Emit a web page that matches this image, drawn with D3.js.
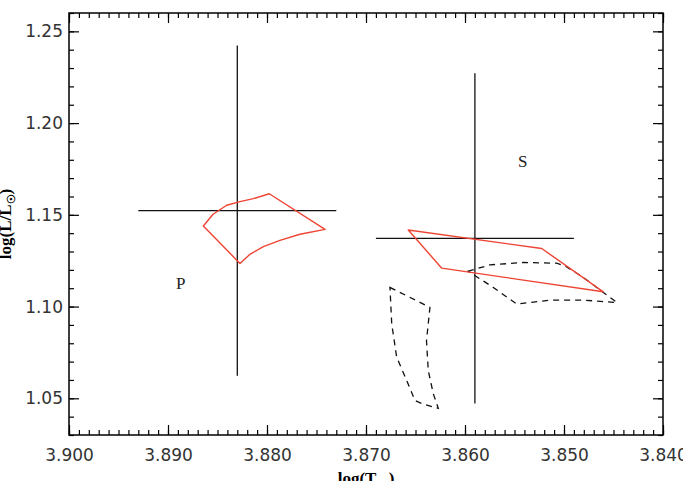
<!DOCTYPE html>
<html>
<head>
<meta charset="utf-8">
<script src="https://cdn.jsdelivr.net/npm/d3@7"></script>
<style>
  body { margin: 0; background: #fff; overflow: hidden; }
  .tick text { font-family: "DejaVu Sans", sans-serif; font-size: 17px; fill: #333; }
  .domain { display: none; }
  .tick line { stroke: #000; stroke-width: 1.2; }
</style>
</head>
<body>
<div id="chart"></div>
<script>
  var width = 683;
  var height = 481;
  var margin = { top: 13, right: 20, bottom: 46, left: 69 };

  // error crosses: [logTeff, errTeff, logL, errL]
  var crossP = [3.8830, 0.0100, 1.1523, 0.0900];
  var crossS = [3.8590, 0.0100, 1.1372, 0.0900];

  // red track boxes
  var trackP = [
    [3.88643, 1.1439], [3.88545, 1.1503], [3.88407, 1.1552], [3.88273, 1.1572],
    [3.88138, 1.1588], [3.87977, 1.1615], [3.87414, 1.1421], [3.87667, 1.1394],
    [3.87869, 1.1361], [3.88037, 1.1327], [3.88172, 1.1285], [3.88273, 1.1235]
  ];
  var trackS = [
    [3.86573, 1.14174], [3.85225, 1.13163], [3.84603, 1.10804], [3.86235, 1.12092]
  ];

  // dashed boxes
  var dashA = [
    [3.85970, 1.11929], [3.85747, 1.12272], [3.85411, 1.12402], [3.85074, 1.12364],
    [3.84990, 1.12217], [3.84805, 1.11587], [3.84603, 1.10772], [3.84465, 1.10217],
    [3.84805, 1.10353], [3.85141, 1.10353], [3.85478, 1.10136], [3.85714, 1.11043]
  ];
  var dashB = [
    [3.86758, 1.11043], [3.86354, 1.09957], [3.86389, 1.08141], [3.86371, 1.06511],
    [3.86320, 1.05245], [3.86270, 1.04450], [3.86430, 1.04700], [3.86505, 1.04880],
    [3.86589, 1.05967], [3.86690, 1.07239], [3.86740, 1.09049]
  ];

  var labels = [
    { text: 'P', x: 3.8892, y: 1.1095 },
    { text: 'S', x: 3.85465, y: 1.1758 }
  ];

  var xMajor = [3.900, 3.890, 3.880, 3.870, 3.860, 3.850, 3.840];
  var yMajor = [1.05, 1.10, 1.15, 1.20, 1.25];

  var svg = d3.select('#chart')
    .append('svg')
    .attr('width', width)
    .attr('height', height);

  var x = d3.scaleLinear()
    .domain([3.900, 3.840])
    .range([margin.left, width - margin.right]);

  var y = d3.scaleLinear()
    .domain([1.03, 1.26])
    .range([height - margin.bottom, margin.top]);

  var xMinor = d3.range(0, 61).map(function(i) { return 3.840 + i * 0.001; });
  var yMinor = d3.range(0, 24).map(function(i) { return 1.03 + i * 0.01; });

  // axes, ticks pointing inward on all four sides
  var axBottom = svg.append('g').attr('transform', 'translate(0,' + y.range()[0] + ')');
  axBottom.call(d3.axisBottom(x).tickValues(xMinor).tickSize(-5).tickFormat(''));
  axBottom.append('g').call(d3.axisBottom(x).tickValues(xMajor).tickSize(-10).tickPadding(14).tickFormat(d3.format('.3f')));

  var axTop = svg.append('g').attr('transform', 'translate(0,' + y.range()[1] + ')');
  axTop.call(d3.axisTop(x).tickValues(xMinor).tickSize(-5).tickFormat(''));
  axTop.append('g').call(d3.axisTop(x).tickValues(xMajor).tickSize(-10).tickFormat(''));

  var axLeft = svg.append('g').attr('transform', 'translate(' + x.range()[0] + ',0)');
  axLeft.call(d3.axisLeft(y).tickValues(yMinor).tickSize(-5).tickFormat(''));
  axLeft.append('g').call(d3.axisLeft(y).tickValues(yMajor).tickSize(-10).tickPadding(6).tickFormat(d3.format('.2f')));

  var axRight = svg.append('g').attr('transform', 'translate(' + x.range()[1] + ',0)');
  axRight.call(d3.axisRight(y).tickValues(yMinor).tickSize(-5).tickFormat(''));
  axRight.append('g').call(d3.axisRight(y).tickValues(yMajor).tickSize(-10).tickFormat(''));

  // frame
  svg.append('rect')
    .attr('x', x.range()[0])
    .attr('y', y.range()[1])
    .attr('width', x.range()[1] - x.range()[0])
    .attr('height', y.range()[0] - y.range()[1])
    .attr('fill', 'none')
    .attr('stroke', '#000')
    .attr('stroke-width', 1.5);

  var line = d3.line()
    .x(function(d) { return x(d[0]); })
    .y(function(d) { return y(d[1]); })
    .curve(d3.curveLinearClosed);

  function drawCross(c) {
    svg.append('line')
      .attr('x1', x(c[0])).attr('x2', x(c[0]))
      .attr('y1', y(c[2] + c[3])).attr('y2', y(c[2] - c[3]))
      .attr('stroke', '#111').attr('stroke-width', 1.3);
    svg.append('line')
      .attr('x1', x(c[0] + c[1])).attr('x2', x(c[0] - c[1]))
      .attr('y1', y(c[2])).attr('y2', y(c[2]))
      .attr('stroke', '#111').attr('stroke-width', 1.3);
  }

  [dashA, dashB].forEach(function(d) {
    svg.append('path')
      .attr('d', line(d))
      .attr('fill', 'none')
      .attr('stroke', '#111')
      .attr('stroke-width', 1.3)
      .attr('stroke-dasharray', '6,5');
  });

  drawCross(crossP);
  drawCross(crossS);

  [trackP, trackS].forEach(function(d) {
    svg.append('path')
      .attr('d', line(d))
      .attr('fill', 'none')
      .attr('stroke', '#ee4433')
      .attr('stroke-width', 1.4)
      .attr('stroke-linejoin', 'round');
  });

  svg.selectAll('.lbl')
    .data(labels)
    .enter()
    .append('text')
    .attr('class', 'lbl')
    .attr('x', function(d) { return x(d.x); })
    .attr('y', function(d) { return y(d.y); })
    .attr('font-family', '"Liberation Serif", serif')
    .attr('font-size', 17)
    .attr('fill', '#222')
    .text(function(d) { return d.text; });

  // axis titles
  var xTitle = svg.append('text')
    .attr('x', (x.range()[0] + x.range()[1]) / 2)
    .attr('y', 484)
    .attr('text-anchor', 'middle')
    .attr('font-family', '"Liberation Serif", serif')
    .attr('font-weight', 'bold')
    .attr('font-size', 17);
  xTitle.append('tspan').text('log(T');
  xTitle.append('tspan').attr('font-size', 11).attr('dy', 4).text('eff');
  xTitle.append('tspan').attr('dy', -4).text(')');

  var yTitle = svg.append('text')
    .attr('transform', 'translate(11,' + (y.range()[0] + y.range()[1]) / 2 + ') rotate(-90)')
    .attr('text-anchor', 'middle')
    .attr('font-family', '"Liberation Serif", serif')
    .attr('font-weight', 'bold')
    .attr('font-size', 17);
  yTitle.append('tspan').text('log(L/L');
  yTitle.append('tspan').attr('font-size', 11).attr('dy', 4).text('\u2609');
  yTitle.append('tspan').attr('dy', -4).text(')');
</script>
</body>
</html>
